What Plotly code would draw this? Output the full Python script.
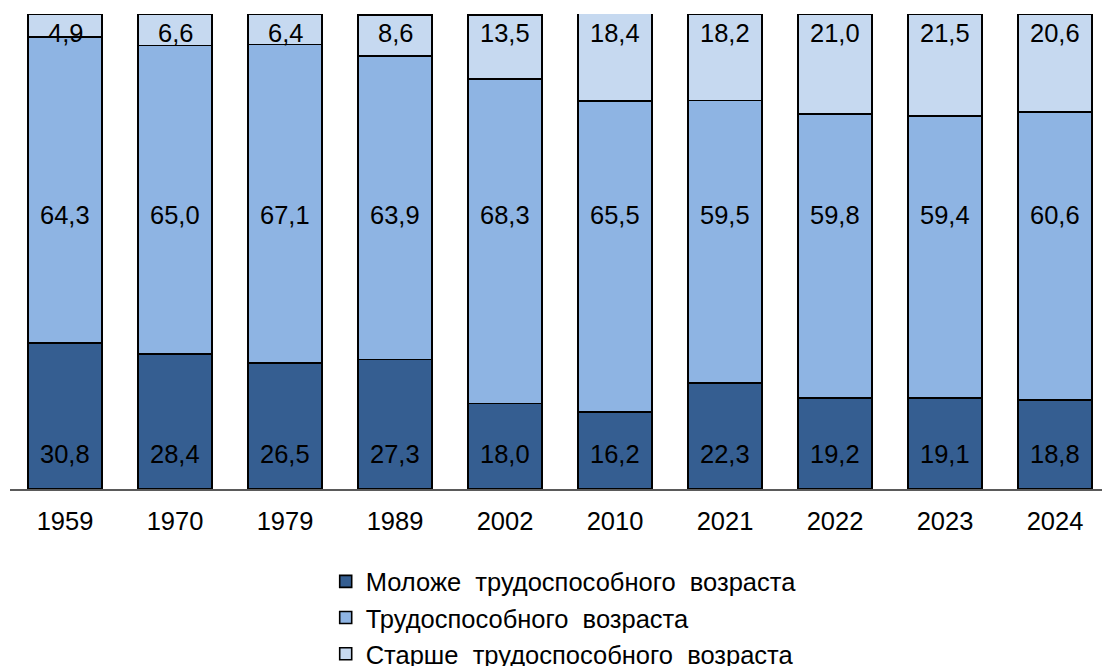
import plotly.graph_objects as go

years = ["1959", "1970", "1979", "1989", "2002", "2010", "2021", "2022", "2023", "2024"]
younger = [30.8, 28.4, 26.5, 27.3, 18.0, 16.2, 22.3, 19.2, 19.1, 18.8]
working = [64.3, 65.0, 67.1, 63.9, 68.3, 65.5, 59.5, 59.8, 59.4, 60.6]
older = [4.9, 6.6, 6.4, 8.6, 13.5, 18.4, 18.2, 21.0, 21.5, 20.6]

names = ["Моложе\u00a0 трудоспособного\u00a0 возраста",
         "Трудоспособного\u00a0 возраста",
         "Старше\u00a0 трудоспособного\u00a0 возраста"]
colors = ["#355E91", "#8EB4E3", "#C6D9F0"]
series = [younger, working, older]
label_y = [7.4, 57.7, 96.0]

FONT = "Liberation Sans, Arial, sans-serif"
FS = 25.5

fig = go.Figure()
for k, (vals, name, col) in enumerate(zip(series, names, colors)):
    fig.add_trace(go.Bar(
        x=years, y=vals, name=name, legendgroup=f"g{k}",
        marker=dict(color=col, line=dict(color="#000000", width=1.6)),
        hoverinfo="skip",
    ))

annotations = []
for vals, ly in zip(series, label_y):
    for i, v in enumerate(vals):
        annotations.append(dict(
            x=i, y=ly, xref="x", yref="y",
            text=f"{v:.1f}".replace(".", ","),
            showarrow=False,
            font=dict(family=FONT, size=FS, color="#000000"),
        ))

# page body has an 8px margin, so the figure is sized to the visible area
fig.update_layout(
    barmode="stack",
    bargap=0.327,
    width=1102, height=658,
    margin=dict(l=2, r=0, t=6, b=177, autoexpand=False),
    paper_bgcolor="white", plot_bgcolor="white",
    font=dict(family=FONT, size=FS, color="#000000"),
    showlegend=True,
    legend=dict(
        orientation="v",
        x=0.287, xanchor="left",
        y=-0.146, yanchor="top",
        font=dict(family=FONT, size=FS, color="#000000"),
        traceorder="grouped",
        itemwidth=30,
        tracegroupgap=0,
        bgcolor="rgba(0,0,0,0)",
    ),
    xaxis=dict(
        type="category",
        range=[-0.5, len(years) - 0.5],
        showline=True, linecolor="#5a5a5a", linewidth=1.5,
        showgrid=False, ticks="", ticklabelstandoff=9,
        tickfont=dict(family=FONT, size=FS, color="#000000"),
    ),
    yaxis=dict(range=[0, 100], visible=False, showgrid=False),
    annotations=annotations,
)

fig.write_html("out.html")
